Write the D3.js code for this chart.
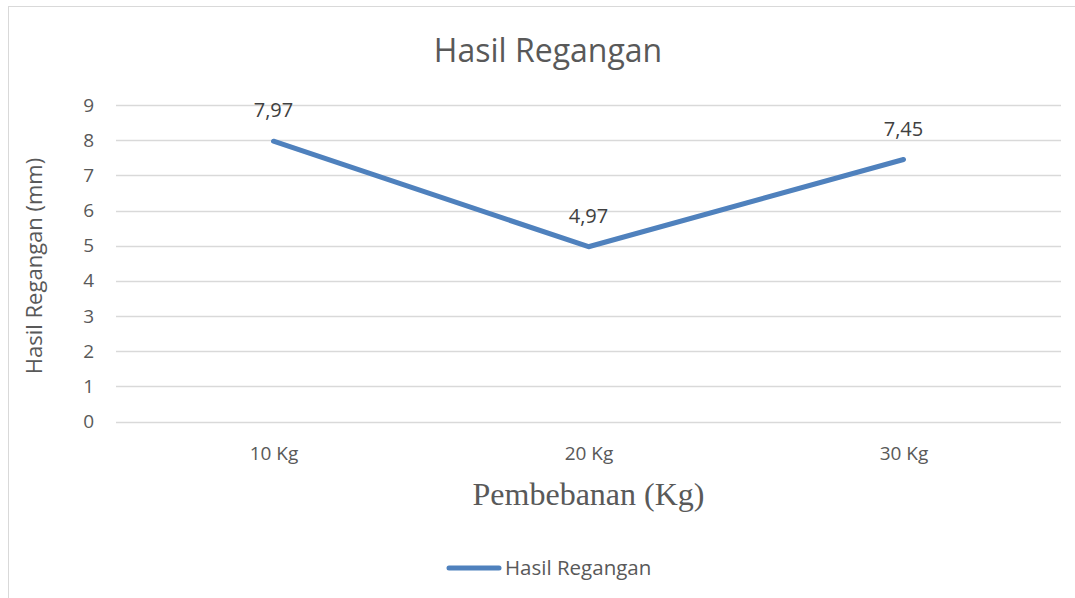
<!DOCTYPE html>
<html>
<head>
<meta charset="utf-8">
<script src="https://cdn.jsdelivr.net/npm/d3@7"></script>
<style>
  body { margin: 0; background: #fff; }
</style>
</head>
<body>
<script>
// Data
let categories = ['10 Kg', '20 Kg', '30 Kg'];
let values = [7.97, 4.97, 7.45];
let labels = ['7,97', '4,97', '7,45'];
let yTicks = [0, 1, 2, 3, 4, 5, 6, 7, 8, 9];

let width = 1075, height = 598;
let margin = { top: 105, bottom: 177, left: 116, right: 14 };

let svg = d3.select('body')
  .append('svg')
  .attr('width', width)
  .attr('height', height)
  .style('font-family', '"Open Sans", "Noto Sans", sans-serif');

// chart border (cropped at right/bottom)
svg.append('rect')
  .attr('x', 8.5).attr('y', 6.5)
  .attr('width', width + 20).attr('height', height + 20)
  .attr('fill', 'none')
  .attr('stroke', '#d9d9d9');

let yScale = d3.scaleLinear()
  .domain([0, 9])
  .range([height - margin.bottom + 0.5, margin.top]);

let xScale = d3.scalePoint()
  .domain(categories)
  .range([margin.left, width - margin.right])
  .padding(0.5);

// Gridlines
svg.append('g')
  .selectAll('line')
  .data(yTicks)
  .enter()
  .append('line')
  .attr('x1', margin.left)
  .attr('x2', width - margin.right)
  .attr('y1', d => Math.round(yScale(d)) + 0.5)
  .attr('y2', d => Math.round(yScale(d)) + 0.5)
  .attr('stroke', '#d9d9d9')
  .attr('stroke-width', 1.3);

// y axis tick labels
let yAxis = svg.append('g')
  .attr('transform', `translate(${margin.left - 22},0)`)
  .call(d3.axisLeft(yScale).tickValues(yTicks).tickSize(0).tickPadding(0));
yAxis.select('.domain').remove();
yAxis.selectAll('text')
  .style('font-size', '19px')
  .style('fill', '#595959')
  .style('font-family', '"Open Sans", "Noto Sans", sans-serif');

// x axis tick labels
let xAxis = svg.append('g')
  .attr('transform', `translate(0, ${height - margin.bottom + 25})`)
  .call(d3.axisBottom(xScale).tickSize(0).tickPadding(0));
xAxis.select('.domain').remove();
xAxis.selectAll('text')
  .style('font-size', '19px')
  .style('fill', '#595959')
  .style('font-family', '"Open Sans", "Noto Sans", sans-serif');

// Title
svg.append('text')
  .attr('x', 548)
  .attr('y', 62)
  .attr('text-anchor', 'middle')
  .style('font-size', '32px')
  .style('fill', '#595959')
  .text('Hasil Regangan');

// y axis title
svg.append('text')
  .attr('transform', 'rotate(-90)')
  .attr('x', -266)
  .attr('y', 42)
  .attr('text-anchor', 'middle')
  .style('font-size', '22px')
  .style('fill', '#595959')
  .text('Hasil Regangan (mm)');

// x axis title
svg.append('text')
  .attr('x', xScale('20 Kg'))
  .attr('y', 505)
  .attr('text-anchor', 'middle')
  .style('font-size', '32px')
  .style('font-family', '"Liberation Serif", "DejaVu Serif", serif')
  .style('fill', '#595959')
  .text('Pembebanan (Kg)');

// Line
let line = d3.line()
  .x((d, i) => xScale(categories[i]))
  .y(d => yScale(d));

svg.append('path')
  .datum(values)
  .attr('d', line)
  .attr('fill', 'none')
  .attr('stroke', '#4f81bd')
  .attr('stroke-width', 5)
  .attr('stroke-linecap', 'round')
  .attr('stroke-linejoin', 'round');

// Data labels
svg.append('g')
  .selectAll('text')
  .data(values)
  .enter()
  .append('text')
  .attr('x', (d, i) => xScale(categories[i]))
  .attr('y', d => yScale(d) - 24)
  .attr('text-anchor', 'middle')
  .style('font-size', '20px')
  .style('fill', '#404040')
  .text((d, i) => labels[i]);

// Legend
svg.append('line')
  .attr('x1', 449).attr('x2', 499)
  .attr('y1', 568).attr('y2', 568)
  .attr('stroke', '#4f81bd')
  .attr('stroke-width', 5)
  .attr('stroke-linecap', 'round');

svg.append('text')
  .attr('x', 505)
  .attr('y', 575)
  .style('font-size', '20.5px')
  .style('fill', '#595959')
  .text('Hasil Regangan');
</script>
</body>
</html>
